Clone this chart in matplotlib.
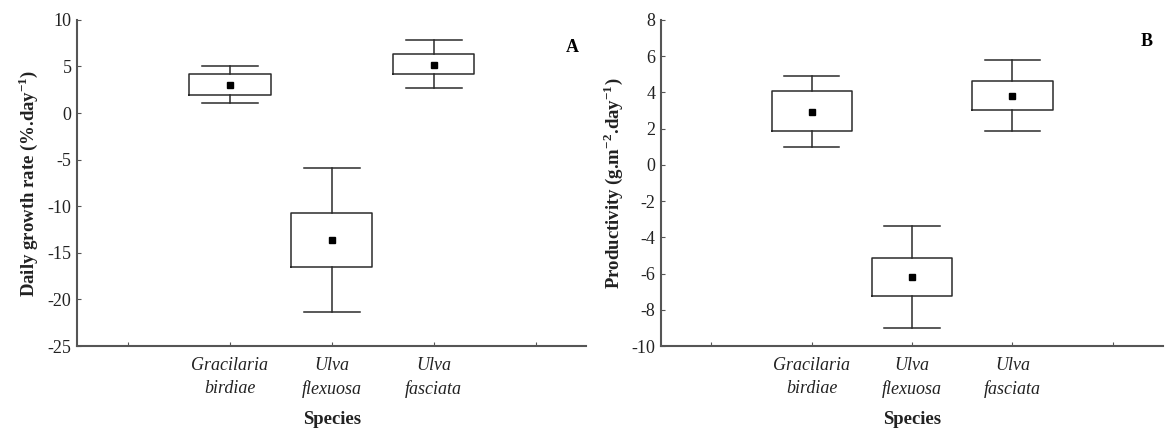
import matplotlib

matplotlib.use("Agg")
import matplotlib.pyplot as plt

plt.rcParams["font.family"] = ["Liberation Serif", "DejaVu Serif"]
plt.rcParams["mathtext.fontset"] = "custom"
plt.rcParams["mathtext.rm"] = "Liberation Serif"
plt.rcParams["mathtext.bf"] = "Liberation Serif:bold"
plt.rcParams["axes.unicode_minus"] = False

species = ["Gracilaria\nbirdiae", "Ulva\nflexuosa", "Ulva\nfasciata"]
positions = [1, 2, 3]

# panel A: daily growth rate (%.day-1)
growth_mean = [3.0, -13.6, 5.2]
growth_q1 = [1.9, -16.5, 4.2]
growth_q3 = [4.2, -10.7, 6.3]
growth_lo = [1.1, -21.4, 2.7]
growth_hi = [5.0, -5.9, 7.8]

# panel B: productivity (g.m-2.day-1)
prod_mean = [2.9, -6.2, 3.8]
prod_q1 = [1.85, -7.25, 3.05]
prod_q3 = [4.1, -5.15, 4.6]
prod_lo = [1.0, -9.0, 1.85]
prod_hi = [4.9, -3.4, 5.8]

LINE = "#2b2b2b"
SPINE = "#555555"


def draw_panel(ax, mean, q1, q3, lo, hi, ylim, yticks, ylabel, letter, letter_xy):
    stats = [
        dict(med=m, mean=m, q1=a, q3=b, whislo=l, whishi=h, fliers=[])
        for m, a, b, l, h in zip(mean, q1, q3, lo, hi)
    ]
    ax.bxp(
        stats,
        positions=positions,
        widths=0.8,
        showmeans=True,
        showfliers=False,
        boxprops=dict(color=LINE, linewidth=1.1),
        whiskerprops=dict(color=LINE, linewidth=1.1),
        capprops=dict(color=LINE, linewidth=1.1),
        capwidths=0.55,
        medianprops=dict(linewidth=0),
        meanprops=dict(marker="s", markersize=5, markerfacecolor="black", markeredgecolor="black"),
    )
    ax.set_xlim(-0.5, 4.5)
    ax.set_ylim(*ylim)
    ax.set_yticks(yticks)
    ax.set_xticks([0, 1, 2, 3, 4])
    ax.set_xticklabels([""] + species + [""], fontstyle="italic", fontsize=13, linespacing=1.45)
    ax.tick_params(axis="x", direction="in", length=3, color=SPINE, pad=8, labelcolor="#222222")
    ax.tick_params(axis="y", direction="in", length=3, color=SPINE, labelsize=13, pad=4, labelcolor="#222222")
    for side in ("top", "right"):
        ax.spines[side].set_visible(False)
    for side in ("left", "bottom"):
        ax.spines[side].set_color(SPINE)
        ax.spines[side].set_linewidth(1.5)
    ax.set_xlabel("Species", fontsize=13.5, fontweight="bold", labelpad=9, color="#222222")
    ax.set_ylabel(ylabel, fontsize=13.5, fontweight="bold", labelpad=5, color="#222222")
    ax.text(letter_xy[0], letter_xy[1], letter, transform=ax.transAxes,
            fontsize=13, fontweight="bold", ha="center", va="center")


fig = plt.figure(figsize=(11.66, 4.32), dpi=100)
ax_a = fig.add_axes([0.066, 0.199, 0.437, 0.755])
ax_b = fig.add_axes([0.567, 0.199, 0.4305, 0.755])

draw_panel(ax_a, growth_mean, growth_q1, growth_q3, growth_lo, growth_hi,
           (-25, 10), range(-25, 11, 5), r"Daily growth rate (%.day$^{\mathbf{-1}}$)", "A", (0.973, 0.914))
draw_panel(ax_b, prod_mean, prod_q1, prod_q3, prod_lo, prod_hi,
           (-10, 8), range(-10, 9, 2), r"Productivity (g.m$^{\mathbf{-2}}$.day$^{\mathbf{-1}}$)", "B", (0.968, 0.933))

fig.savefig("out.png", dpi=100)
plt.close(fig)
